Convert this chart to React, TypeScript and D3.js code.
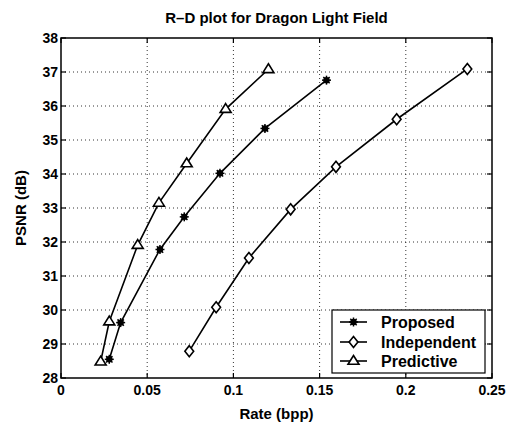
import * as d3 from "d3";
import React from "react";

// series values: [rate (bpp), PSNR (dB)]
const proposed: [number, number][] = [
  [0.028, 28.55], [0.0346, 29.63], [0.0574, 31.78], [0.0715, 32.74],
  [0.0922, 34.02], [0.1183, 35.34], [0.154, 36.76],
];
const independent: [number, number][] = [
  [0.0744, 28.79], [0.09, 30.08], [0.109, 31.53], [0.1332, 32.96],
  [0.1595, 34.21], [0.1947, 35.61], [0.2357, 37.09],
];
const predictive: [number, number][] = [
  [0.023, 28.48], [0.028, 29.66], [0.0445, 31.91], [0.0568, 33.15],
  [0.0729, 34.31], [0.0955, 35.91], [0.1203, 37.08],
];
const seriesNames = ["Proposed", "Independent", "Predictive"];
const xTicks = [0, 0.05, 0.1, 0.15, 0.2, 0.25];
const yTicks = [28, 29, 30, 31, 32, 33, 34, 35, 36, 37, 38];

const font = "'Liberation Sans', Arial, Helvetica, sans-serif";

function Marker({ kind, x, y }: { kind: number; x: number; y: number }) {
  if (kind === 0) {
    const r = 4.5;
    return (
      <g>
        <circle cx={x} cy={y} r={3.2} fill="#000" />
        {[0, 45, 90, 135].map(a => {
          const rad = (a * Math.PI) / 180;
          return (
            <line key={a} x1={x - r * Math.cos(rad)} y1={y - r * Math.sin(rad)}
              x2={x + r * Math.cos(rad)} y2={y + r * Math.sin(rad)} stroke="#000" strokeWidth={1.5} />
          );
        })}
      </g>
    );
  }
  if (kind === 1) {
    const r = 5.5;
    return <path d={`M${x},${y - r}L${x + r * 0.8},${y}L${x},${y + r}L${x - r * 0.8},${y}Z`}
      fill="#fff" stroke="#000" strokeWidth={1.6} />;
  }
  const s = 5.5;
  return <path d={`M${x},${y - s}L${x + s},${y + s * 0.6}L${x - s},${y + s * 0.6}Z`}
    fill="#fff" stroke="#000" strokeWidth={1.6} />;
}

export default function App() {
  const W = 511, H = 427;
  const left = 61, right = 492, top = 38, bottom = 378;
  const x = d3.scaleLinear().domain([0, 0.25]).range([left, right]);
  const y = d3.scaleLinear().domain([28, 38]).range([bottom, top]);
  const line = d3.line<[number, number]>().x(d => x(d[0])).y(d => y(d[1]));
  const all = [proposed, independent, predictive];

  // legend
  const lg = { x0: 332, x1: 485, y0: 310, y1: 373 };
  const rowY = [322, 342, 361];

  return (
    <svg width={W} height={H} style={{ position: "absolute", left: 0, top: 0, background: "#fff" }}>
      <rect width={W} height={H} fill="#fff" />
      {/* grid */}
      {xTicks.slice(1, -1).map(t => (
        <line key={"gx" + t} x1={x(t)} x2={x(t)} y1={top} y2={bottom} stroke="#000" strokeWidth={0.8} strokeDasharray="1,3" />
      ))}
      {yTicks.slice(1, -1).map(t => (
        <line key={"gy" + t} x1={left} x2={right} y1={y(t)} y2={y(t)} stroke="#000" strokeWidth={0.8} strokeDasharray="1,3" />
      ))}
      {/* ticks on all four sides */}
      {xTicks.map(t => (
        <g key={"tx" + t}>
          <line x1={x(t)} x2={x(t)} y1={bottom} y2={bottom - 5} stroke="#000" strokeWidth={1.2} />
          <line x1={x(t)} x2={x(t)} y1={top} y2={top + 5} stroke="#000" strokeWidth={1.2} />
          <text x={x(t)} y={bottom + 17} textAnchor="middle" fontFamily={font} fontSize={14} fontWeight="bold">{t}</text>
        </g>
      ))}
      {yTicks.map(t => (
        <g key={"ty" + t}>
          <line x1={left} x2={left + 5} y1={y(t)} y2={y(t)} stroke="#000" strokeWidth={1.2} />
          <line x1={right} x2={right - 5} y1={y(t)} y2={y(t)} stroke="#000" strokeWidth={1.2} />
          <text x={left - 3} y={y(t) + 5} textAnchor="end" fontFamily={font} fontSize={14} fontWeight="bold">{t}</text>
        </g>
      ))}
      <rect x={left} y={top} width={right - left} height={bottom - top} fill="none" stroke="#000" strokeWidth={1.5} />
      {/* series */}
      {all.map((s, i) => (
        <g key={"s" + i}>
          <path d={line(s) || ""} fill="none" stroke="#000" strokeWidth={1.6} />
          {s.map((d, j) => <Marker key={j} kind={i} x={x(d[0])} y={y(d[1])} />)}
        </g>
      ))}
      {/* legend */}
      <rect x={lg.x0} y={lg.y0} width={lg.x1 - lg.x0} height={lg.y1 - lg.y0} fill="#fff" stroke="#000" strokeWidth={1.2} />
      {seriesNames.map((n, i) => (
        <g key={n}>
          <line x1={340} x2={367} y1={rowY[i]} y2={rowY[i]} stroke="#000" strokeWidth={1.6} />
          <Marker kind={i} x={353.5} y={rowY[i]} />
          <text x={381} y={rowY[i] + 5.5} fontFamily={font} fontSize={16} fontWeight="bold">{n}</text>
        </g>
      ))}
      {/* titles */}
      <text x={(left + right) / 2} y={23} textAnchor="middle" fontFamily={font} fontSize={15} fontWeight="bold">R–D plot for Dragon Light Field</text>
      <text x={(left + right) / 2} y={419} textAnchor="middle" fontFamily={font} fontSize={15} fontWeight="bold">Rate (bpp)</text>
      <text transform={`translate(26,${(top + bottom) / 2}) rotate(-90)`} textAnchor="middle" fontFamily={font} fontSize={15} fontWeight="bold">PSNR (dB)</text>
    </svg>
  );
}
